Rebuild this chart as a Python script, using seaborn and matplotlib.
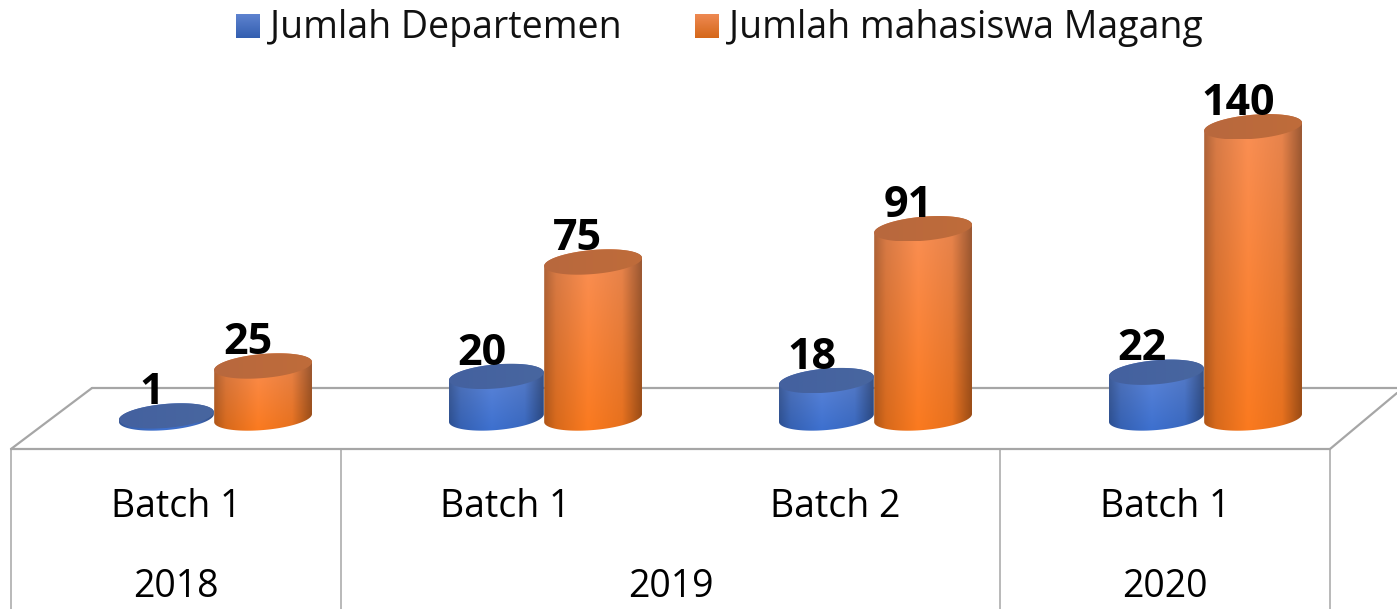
import numpy as np
import pandas as pd
import matplotlib
matplotlib.use('Agg')
import matplotlib.pyplot as plt
import seaborn as sns
from matplotlib.patches import PathPatch
from matplotlib.path import Path

# data
periods = ['2018 Batch 1', '2019 Batch 1', '2019 Batch 2', '2020 Batch 1']
batch_labels = ['Batch 1', 'Batch 1', 'Batch 2', 'Batch 1']
year_labels = ['2018', '2019', '2020']
year_spans = [(0, 0), (1, 2), (3, 3)]
departemen = [1, 20, 18, 22]
mahasiswa = [25, 75, 91, 140]
series_names = ['Jumlah Departemen', 'Jumlah mahasiswa Magang']

W, H = 1397, 609
FONT = 'Open Sans'
TILT = np.deg2rad(5)
MINOR = 12

# per series: gradient top colour, gradient bottom colour, cap left, cap right
styles = {
    series_names[0]: ('#6289DA', '#3D70CF', '#44619F', '#48669F'),
    series_names[1]: ('#FA9056', '#FB7A1F', '#B8683E', '#BF6C3A'),
}
# blue cylinders are a little narrower than the orange ones
trim = [1.5, 0.0]

sns.set_theme(style='white')
plt.rcParams['font.family'] = [FONT, 'DejaVu Sans']

df = pd.DataFrame({
    'period': periods * 2,
    'series': [series_names[0]] * 4 + [series_names[1]] * 4,
    'value': departemen + mahasiswa,
})

fig = plt.figure(figsize=(W / 100, H / 100), dpi=100, facecolor='white')


def px_axes(x0, y0, x1, y1):
    return fig.add_axes([x0 / W, 1 - y1 / H, (x1 - x0) / W, (y1 - y0) / H])


# pixel layer, holds the floor and the cylinder shading
ov = px_axes(0, 0, W, H)
ov.set_axis_off()
ov.set_xlim(0, W)
ov.set_ylim(H, 0)

# table under the floor
tb = px_axes(11, 449, 1330, H)
tb.set_axis_off()
tb.set_xlim(-0.5, 3.5)
tb.set_ylim(H, 449)

# value axes, shifted right like the 3D perspective does
ax = px_axes(49, 0, 1369, 418)
sns.barplot(data=df, x='period', y='value', hue='series', order=periods,
            hue_order=series_names, width=0.595, gap=0, legend=False, ax=ax)
ax.set_xlim(-0.5, 3.5)
ax.set_ylim(0, 418 / 2.08)
ax.set_axis_off()
ax.patch.set_alpha(0)
ax.set_zorder(3)
ov.set_zorder(2)
tb.set_zorder(1)

GRID = '#A6A6A6'
ov.plot([92, 1397], [388, 388], color=GRID, lw=1.6, zorder=1)
ov.plot([11, 92], [449, 388], color=GRID, lw=1.6, zorder=1)
ov.plot([1330, 1397], [449, 393], color=GRID, lw=1.6, zorder=1)
ov.plot([11, 1330], [449, 449], color=GRID, lw=1.6, zorder=1)

for edge in [-0.5, 0.5, 2.5, 3.5]:
    tb.axvline(edge, color=GRID, lw=1.1, clip_on=False)
for i, label in enumerate(batch_labels):
    tb.text(i, 507, label, ha='center', va='center', fontsize=27, color='black')
for label, (a, b) in zip(year_labels, year_spans):
    tb.text((a + b) / 2, 587, label, ha='center', va='center', fontsize=27, color='black')


def ellipse_pts(cx, cy, a, t):
    x = cx + a * np.cos(t) * np.cos(TILT) + MINOR * np.sin(t) * np.sin(TILT)
    y = cy - a * np.cos(t) * np.sin(TILT) + MINOR * np.sin(t) * np.cos(TILT)
    return np.column_stack([x, y])


def rgb(c):
    return np.array(matplotlib.colors.to_rgb(c))


def shaded(top, bottom, ny=64, nx=96):
    # vertical blend, darkened towards both sides of the cylinder
    v = np.linspace(0, 1, ny)[:, None, None]
    u = np.linspace(0, 1, nx)
    side = np.interp(u, [0, 0.12, 0.45, 0.8, 1], [0.70, 0.86, 1.0, 0.92, 0.62])
    img = (1 - v) * rgb(top) + v * rgb(bottom)
    return np.clip(img * side[None, :, None], 0, 1)


def draw_fill(img, pts, zorder):
    patch = PathPatch(Path(np.vstack([pts, pts[0]])), fc='none', ec='none', transform=ov.transData)
    ov.add_patch(patch)
    im = ov.imshow(img, extent=(pts[:, 0].min(), pts[:, 0].max(), pts[:, 1].max(), pts[:, 1].min()),
                   aspect='auto', interpolation='bilinear', zorder=zorder)
    im.set_clip_path(patch)


to_px = ax.transData + ov.transData.inverted()
for s, (name, container) in enumerate(zip(series_names, ax.containers)):
    top_c, bot_c, cap_l, cap_r = styles[name]
    for i, bar in enumerate(container.patches):
        bar.set_visible(False)
        xc = bar.get_x() + bar.get_width() / 2
        val = bar.get_height()
        cx, y_top = to_px.transform((xc, val))
        _, y_base = to_px.transform((xc, 0))
        x_r, _ = to_px.transform((bar.get_x() + bar.get_width(), 0))
        a = x_r - cx - trim[s]
        cx = cx + trim[s]
        z = 5 + s * 10 + i * 0.1
        low = ellipse_pts(cx, y_base, a, np.linspace(0, np.pi, 60))
        high = ellipse_pts(cx, y_top, a, np.linspace(np.pi, 2 * np.pi, 60))
        draw_fill(shaded(top_c, bot_c), np.vstack([low, high]), z)
        cap = ellipse_pts(cx, y_top, a, np.linspace(0, 2 * np.pi, 120))
        cap_img = np.linspace(rgb(cap_l), rgb(cap_r), 32)[None, :, :]
        draw_fill(cap_img, cap, z + 0.05)
        ax.annotate(str(int(val)), (xc, val), xytext=(-11 + 1.6 * (1 - s), 8.5), textcoords='offset points',
                    ha='center', va='baseline', fontsize=31, fontweight='bold', color='black',
                    annotation_clip=False)

# legend
leg_items = [(236, 270), (695, 729)]
for name, (xs, xt) in zip(series_names, leg_items):
    top_c, bot_c, _, _ = styles[name]
    sq = np.linspace(rgb(top_c) * 0.95, rgb(bot_c) * 0.85, 24)[:, None, :]
    ov.imshow(sq, extent=(xs, xs + 24, 38, 14), aspect='auto', interpolation='bilinear', zorder=20)
    ov.text(xt, 38, name, ha='left', va='baseline', fontsize=27, color='#111111')

ov.set_xlim(0, W)
ov.set_ylim(H, 0)

fig.savefig('out.png', dpi=100)
